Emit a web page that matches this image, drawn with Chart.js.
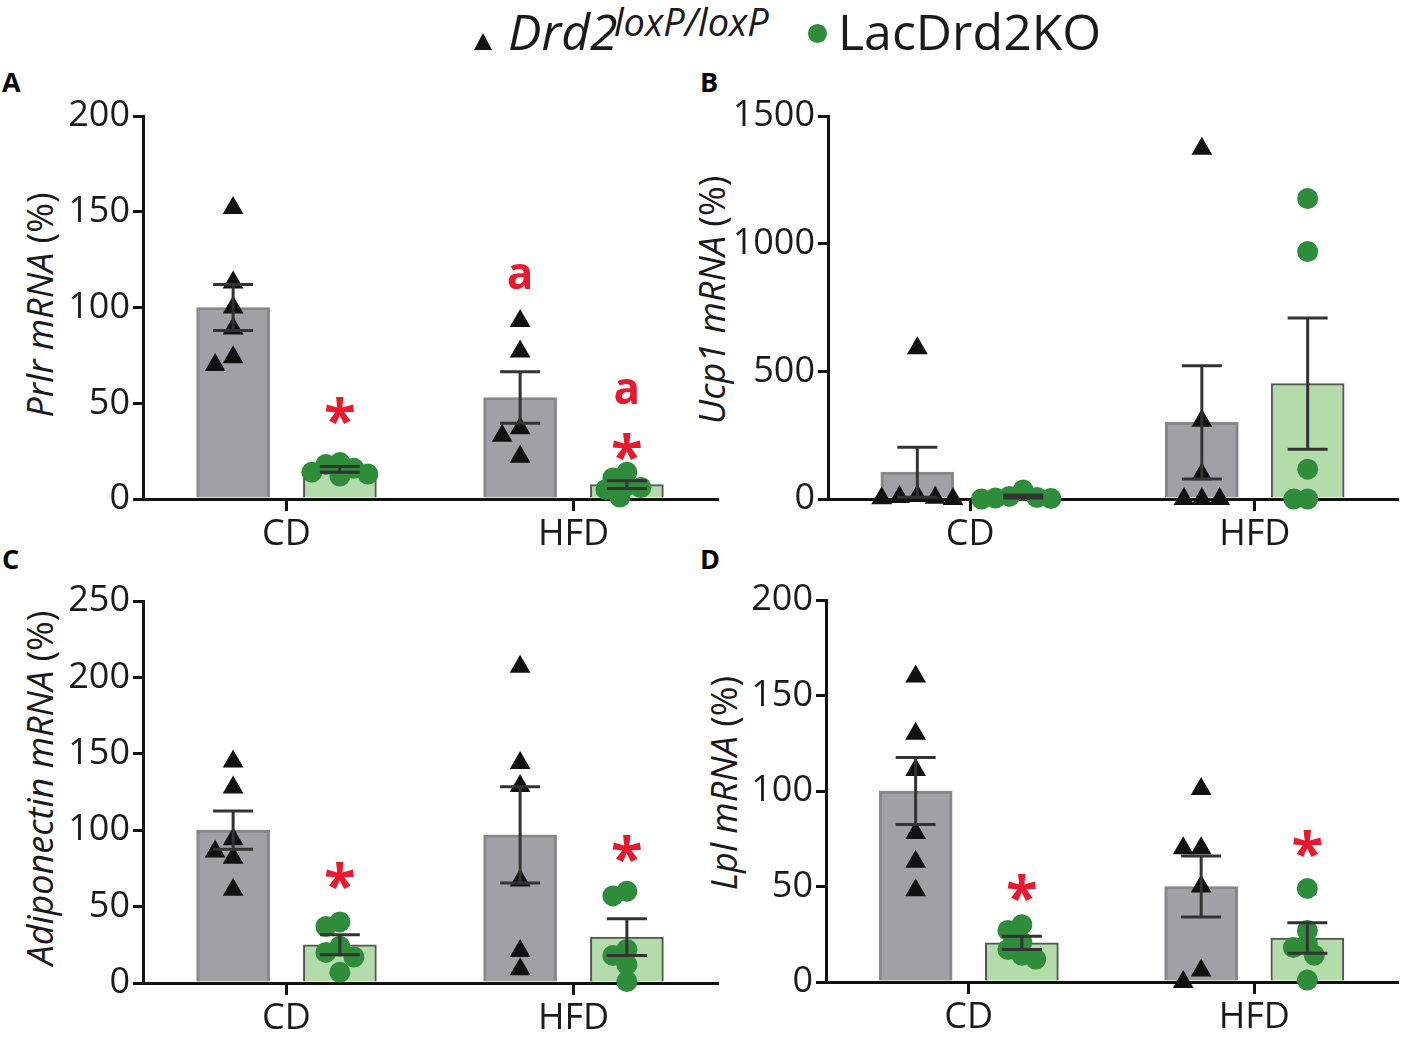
<!DOCTYPE html>
<html>
<head>
<meta charset="utf-8">
<script src="https://cdn.jsdelivr.net/npm/chart.js@4.4.1/dist/chart.umd.min.js"></script>
<style>
  body { margin: 0; background: #fff; width: 1409px; height: 1037px; overflow: hidden; position: relative; font-family: "Open Sans", sans-serif; color: #1a1a1a; }
  canvas { position: absolute; }
  .ytitle { position: absolute; transform: translate(-50%, -50%) rotate(-90deg); white-space: nowrap; font-size: 36px; line-height: 1; }
  .panel { position: absolute; font-weight: bold; font-size: 27px; line-height: 1; color: #000; }
  .lg { position: absolute; white-space: nowrap; line-height: 1; }
</style>
</head>
<body>

<div class="lg" style="left:474px; top:33px; width:0; height:0; border-left:9px solid transparent; border-right:9px solid transparent; border-bottom:17px solid #111;"></div>
<div class="lg" style="left:508px; top:6px; font-size:50px; font-style:italic;">Drd2</div>
<div class="lg" style="left:614px; top:2px; font-size:38px; font-style:italic;">loxP/loxP</div>
<div class="lg" style="left:808px; top:24px; width:19px; height:19px; border-radius:50%; background:#2f8c3a;"></div>
<div class="lg" style="left:838px; top:6px; font-size:50px;">LacDrd2KO</div>

<div class="panel" style="left:2px; top:68px;">A</div>
<div class="panel" style="left:700px; top:68px;">B</div>
<div class="panel" style="left:2px; top:545px;">C</div>
<div class="panel" style="left:700px; top:545px;">D</div>

<div class="ytitle" style="left:40px; top:305px;"><i>Prlr mRNA</i> (%)</div>
<div class="ytitle" style="left:712px; top:300px;"><i>Ucp1 mRNA</i> (%)</div>
<div class="ytitle" style="left:40px; top:788px;"><i>Adiponectin mRNA</i> (%)</div>
<div class="ytitle" style="left:724px; top:783px;"><i>Lpl mRNA</i> (%)</div>

<canvas id="chartA" width="690" height="480" style="left:50px; top:90px;"></canvas>
<canvas id="chartB" width="679" height="480" style="left:730px; top:90px;"></canvas>
<canvas id="chartC" width="690" height="462" style="left:50px; top:575px;"></canvas>
<canvas id="chartD" width="679" height="462" style="left:730px; top:575px;"></canvas>

<script>
// groups on the x axis
var groups = ['CD', 'HFD'];

// A - Prlr mRNA (%)
var prlrTicks = [0, 50, 100, 150, 200];
var prlrCtrlMean = [100, 53];
var prlrCtrlSem = [12, 13.5];
var prlrKoMean = [15.5, 7.5];
var prlrKoSem = [1.5, 2];
var prlrCtrlPts = [[152, 113, 100, 89, 74, 70], [93, 77, 37, 33, 22]];
var prlrKoPts = [[19, 18, 16, 14, 13, 12], [14, 11, 7, 6, 5, 1]];
var prlrMarks = [['*', 1, 0, 46], ['a', 0, 1, 116], ['a', 1, 1, 56], ['*', 1, 1, 27]];

// B - Ucp1 mRNA (%)
var ucp1Ticks = [0, 500, 1000, 1500];
var ucp1CtrlMean = [105, 300];
var ucp1CtrlSem = [98, 222];
var ucp1KoMean = [10, 452];
var ucp1KoSem = [6, 257];
var ucp1CtrlPts = [[590, 12, 8, 5, 3, 0], [1372, 306, 97, 0, 0, 0]];
var ucp1KoPts = [[35, 10, 6, 4, 2, 0], [1177, 969, 117, 0, 0]];
var ucp1Marks = [];

// C - Adiponectin mRNA (%)
var adipoTicks = [0, 50, 100, 150, 200, 250];
var adipoCtrlMean = [100, 97];
var adipoCtrlSem = [12.5, 31.5];
var adipoKoMean = [25, 30];
var adipoKoSem = [6.5, 12];
var adipoCtrlPts = [[145, 128, 94, 86, 82, 61], [207, 144, 129, 67, 21, 9]];
var adipoKoPts = [[40, 37, 24, 20, 17, 7], [60, 57, 22, 18, 12, 1]];
var adipoMarks = [['*', 1, 0, 70], ['*', 1, 1, 88]];

// D - Lpl mRNA (%)
var lplTicks = [0, 50, 100, 150, 200];
var lplCtrlMean = [100, 50];
var lplCtrlSem = [17.5, 16];
var lplKoMean = [20.5, 23];
var lplKoSem = [3.5, 8];
var lplCtrlPts = [[160, 130, 111, 78, 63, 48], [101, 70, 70, 50, 6, 0]];
var lplKoPts = [[30, 27, 21, 17, 14, 12], [49, 27, 20, 18, 14, 1]];
var lplMarks = [['*', 1, 0, 49], ['*', 1, 1, 72]];

var PLOT_W = 574, PLOT_H = 383;
var SHIFT = 0.186;   // bar centre offset from group centre, in group units
var BAR_W = 73;
var FONT = '"Open Sans", sans-serif';
var RED = '#e8192c';

// simple beeswarm so overlapping dots spread sideways inside the bar
function swarm(values, center, pxX, pxY, step, minDist) {
  var placed = [];
  return values.map(function (v) {
    var y = v * pxY, off = 0;
    for (var k = 0; k < 14; k++) {
      off = k === 0 ? 0 : (k % 2 ? -1 : 1) * Math.ceil(k / 2) * step;
      var hit = placed.some(function (p) {
        var dx = p.x - off, dy = p.y - y;
        return dx * dx + dy * dy < minDist * minDist;
      });
      if (!hit) break;
    }
    placed.push({ x: off, y: y });
    return { x: center + off / pxX, y: v };
  });
}

var errorBars = {
  id: 'errorBars',
  afterDatasetsDraw: function (chart) {
    var ctx = chart.ctx, xs = chart.scales.x, ys = chart.scales.y;
    chart.data.datasets.forEach(function (ds) {
      if (!ds.sem) return;
      ds.data.forEach(function (d, j) {
        var x = xs.getPixelForValue(d.x), s = ds.sem[j];
        var top = ys.getPixelForValue(d.y + s);
        var bot = ys.getPixelForValue(Math.max(0, d.y - s));
        ctx.save();
        ctx.strokeStyle = '#333';
        ctx.lineWidth = 3;
        ctx.beginPath();
        ctx.moveTo(x, top); ctx.lineTo(x, bot);
        ctx.moveTo(x - 20, top); ctx.lineTo(x + 20, top);
        ctx.moveTo(x - 20, bot); ctx.lineTo(x + 20, bot);
        ctx.stroke();
        ctx.restore();
      });
    });
  }
};

var sigMarks = {
  id: 'sigMarks',
  afterDatasetsDraw: function (chart) {
    var ctx = chart.ctx, xs = chart.scales.x, ys = chart.scales.y;
    (chart.config._config.marks || []).forEach(function (mk) {
      var d = chart.data.datasets[mk[1]].data[mk[2]];
      var xp = xs.getPixelForValue(d.x), yp = ys.getPixelForValue(mk[3]);
      ctx.save();
      ctx.font = 'bold ' + (mk[0] === '*' ? 58 : 44) + 'px ' + FONT;
      ctx.fillStyle = RED;
      ctx.textAlign = 'center';
      ctx.textBaseline = 'alphabetic';
      var m = ctx.measureText(mk[0]);
      ctx.fillText(mk[0], xp, yp + (m.actualBoundingBoxAscent - m.actualBoundingBoxDescent) / 2);
      ctx.restore();
    });
  }
};

function makePanel(id, ticks, ctrlMean, ctrlSem, koMean, koSem, ctrlPts, koPts, marks, yW, xH, padTop, padRight) {
  var yMax = ticks[ticks.length - 1];
  var pxX = PLOT_W / groups.length, pxY = PLOT_H / yMax;
  var triPts = [], dotPts = [];
  ctrlPts.forEach(function (vals, g) { triPts = triPts.concat(swarm(vals, g - SHIFT, pxX, pxY, 9, 17)); });
  koPts.forEach(function (vals, g) { dotPts = dotPts.concat(swarm(vals, g + SHIFT, pxX, pxY, 7, 13)); });
  var ctrlBars = ctrlMean.map(function (v, g) { return { x: g - SHIFT, y: v }; });
  var koBars = koMean.map(function (v, g) { return { x: g + SHIFT, y: v }; });

  var tickFont = { family: FONT, size: 36 };
  return new Chart(document.getElementById(id), {
    type: 'bar',
    marks: marks,
    data: {
      datasets: [
        { type: 'bar', data: ctrlBars, sem: ctrlSem, backgroundColor: '#a0a0a5', borderColor: '#86868b',
          borderWidth: 3, grouped: false, barThickness: BAR_W, order: 2 },
        { type: 'bar', data: koBars, sem: koSem, backgroundColor: '#b3dcaa', borderColor: '#555',
          borderWidth: 2, grouped: false, barThickness: BAR_W, order: 2 },
        { type: 'scatter', data: triPts, pointStyle: 'triangle', pointRadius: 12,
          backgroundColor: '#111', borderWidth: 0, clip: false, order: 1 },
        { type: 'scatter', data: dotPts, pointStyle: 'circle', pointRadius: 10.5,
          backgroundColor: '#2f8c3a', borderWidth: 0, clip: false, order: 1 }
      ]
    },
    options: {
      responsive: false,
      animation: false,
      layout: { padding: { top: padTop, right: padRight, left: 0, bottom: 0 } },
      plugins: { legend: { display: false }, tooltip: { enabled: false } },
      scales: {
        x: {
          type: 'linear', min: -0.5, max: groups.length - 0.5, offset: false,
          afterBuildTicks: function (s) { s.ticks = groups.map(function (g, i) { return { value: i }; }); },
          grid: { drawOnChartArea: false, offset: false, tickLength: 12, lineWidth: 3, color: '#111' },
          border: { color: '#111', width: 3 },
          ticks: { font: tickFont, color: '#1a1a1a', padding: 2, callback: function (v) { return groups[v]; } },
          afterFit: function (s) { s.height = xH; }
        },
        y: {
          min: 0, max: yMax,
          afterBuildTicks: function (s) { s.ticks = ticks.map(function (v) { return { value: v }; }); },
          grid: { drawOnChartArea: false, tickLength: 10, lineWidth: 3, color: '#111' },
          border: { color: '#111', width: 3 },
          ticks: { font: tickFont, color: '#1a1a1a', padding: 3, callback: function (v) { return String(v); } },
          afterFit: function (s) { s.width = yW; }
        }
      }
    },
    plugins: [errorBars, sigMarks]
  });
}

makePanel('chartA', prlrTicks, prlrCtrlMean, prlrCtrlSem, prlrKoMean, prlrKoSem, prlrCtrlPts, prlrKoPts, prlrMarks, 93, 71, 26, 23);
makePanel('chartB', ucp1Ticks, ucp1CtrlMean, ucp1CtrlSem, ucp1KoMean, ucp1KoSem, ucp1CtrlPts, ucp1KoPts, ucp1Marks, 98, 71, 26, 5);
makePanel('chartC', adipoTicks, adipoCtrlMean, adipoCtrlSem, adipoKoMean, adipoKoSem, adipoCtrlPts, adipoKoPts, adipoMarks, 93, 54, 26, 23);
makePanel('chartD', lplTicks, lplCtrlMean, lplCtrlSem, lplKoMean, lplKoSem, lplCtrlPts, lplKoPts, lplMarks, 96, 55, 25, 5);
</script>
</body>
</html>
